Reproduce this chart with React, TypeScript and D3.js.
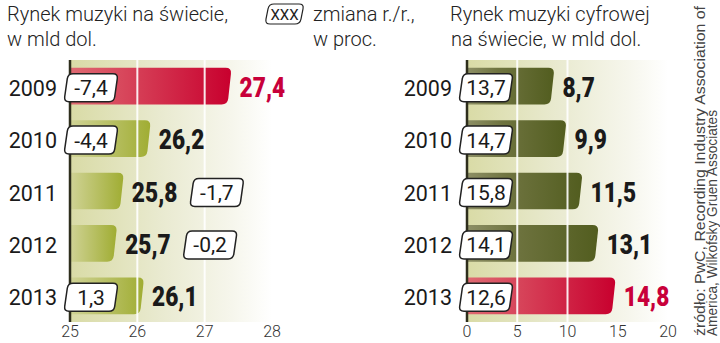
import React from "react";
import * as d3 from "d3";

const years = ["2009", "2010", "2011", "2012", "2013"];
const totalValues = [27.4, 26.2, 25.8, 25.7, 26.1];
const totalChange = [-7.4, -4.4, -1.7, -0.2, 1.3];
const totalTicks = [25, 26, 27, 28];
const totalGrid = [26, 27];
const digitalValues = [8.7, 9.9, 11.5, 13.1, 14.8];
const digitalChange = [13.7, 14.7, 15.8, 14.1, 12.6];
const digitalTicks = [0, 5, 10, 15, 20];
const digitalGrid = [5, 10];
const titleTotal = ["Rynek muzyki na świecie,", "w mld dol."];
const titleDigital = ["Rynek muzyki cyfrowej", "na świecie, w mld dol."];
const legendSample = "XXX";
const legendLines = ["zmiana r./r.,", "w proc."];
const sourceLines = [
  "źródło: PwC, Recording Industry Association of",
  "America, Wilkofsky Gruen Associates",
];

const fmt = (v: number) => d3.format(".1f")(v).replace(".", ",").replace("\u2212", "-");

const LIGHT = "Roboto, 'Noto Sans', sans-serif";
const ARIAL = "'Liberation Sans', Arial, sans-serif";

function roundedPoly(pts: [number, number][], radii: number[]) {
  const n = pts.length;
  let d = "";
  for (let i = 0; i < n; i++) {
    const p0 = pts[(i - 1 + n) % n], p1 = pts[i], p2 = pts[(i + 1) % n];
    const v1 = [p0[0] - p1[0], p0[1] - p1[1]];
    const v2 = [p2[0] - p1[0], p2[1] - p1[1]];
    const l1 = Math.hypot(v1[0], v1[1]), l2 = Math.hypot(v2[0], v2[1]);
    const r1 = Math.min(radii[i], l1 / 2), r2 = Math.min(radii[i], l2 / 2);
    const a = [p1[0] + (v1[0] / l1) * r1, p1[1] + (v1[1] / l1) * r1];
    const b = [p1[0] + (v2[0] / l2) * r2, p1[1] + (v2[1] / l2) * r2];
    d += (i === 0 ? "M" : "L") + a[0] + "," + a[1] + "Q" + p1[0] + "," + p1[1] + " " + b[0] + "," + b[1];
  }
  return d + "Z";
}

function labelBox(x0: number, cy: number, w: number, h: number) {
  const s = 4;
  const y0 = cy - h / 2, y1 = cy + h / 2;
  return roundedPoly(
    [[x0 + s, y0], [x0 + w, y0], [x0 + w - s, y1], [x0, y1]],
    [5, 5, 5, 5]
  );
}

type ChartProps = {
  id: string;
  domain: [number, number];
  range: [number, number];
  values: number[];
  changes: number[];
  ticks: number[];
  grid: number[];
  yearEnd: number;
  boxLeft: number;
  barGrad: string;
};

const TOP = 60, BOTTOM = 322;
const BOX_W = 54, BOX_H = 28;

function BarChart(p: ChartProps) {
  const x = d3.scaleLinear().domain(p.domain).range(p.range);
  const y = d3.scaleBand<string>().domain(years).range([TOP, BOTTOM]).paddingInner(0.3).paddingOuter(0.15);
  const maxV = d3.max(p.values) as number;
  const x0 = x(p.domain[0]);
  const bw = y.bandwidth();
  return (
    <g>
      <rect x={x0} y={TOP} width={x(p.domain[1]) - x0} height={BOTTOM - TOP} fill={`url(#bg-${p.id})`} />
      {years.map((yr, i) => {
        const v = p.values[i];
        const x1 = x(v);
        const by = y(yr) as number;
        const hi = v === maxV;
        const d = roundedPoly(
          [[x0, by], [x1, by], [x1 - 4, by + bw], [x0, by + bw]],
          [0, 6, 6, 0]
        );
        return <path key={yr} d={d} fill={hi ? "url(#bar-red)" : `url(#${p.barGrad})`} />;
      })}
      {p.grid.map((g) => (
        <line key={g} x1={x(g)} x2={x(g)} y1={TOP} y2={BOTTOM} stroke="#ffffff" strokeOpacity={0.9} strokeWidth={2} />
      ))}
      <line x1={x0} x2={x0} y1={TOP} y2={BOTTOM} stroke="#2e2e1c" strokeWidth={2.5} />
      {years.map((yr, i) => {
        const v = p.values[i];
        const cy = (y(yr) as number) + bw / 2;
        const hi = v === maxV;
        const vx = x(v) + 8;
        const after = x(v) - (p.boxLeft + BOX_W) < 20;
        const bx = after ? vx + 58 : p.boxLeft;
        return (
          <g key={yr}>
            <text x={p.yearEnd} y={cy + 9.5} textAnchor="end" fontFamily={LIGHT} fontSize={21.5} fill="#1a1a1a">
              {yr}
            </text>
            <text
              transform={`translate(${vx},${cy + 10.5}) scale(0.84,1)`}
              fontFamily={LIGHT}
              fontWeight={900}
              fontSize={27}
              fill={hi ? "#c8003a" : "#1a1a1a"}
            >
              {fmt(v)}
            </text>
            <path d={labelBox(bx, cy + 1.5, BOX_W, BOX_H)} fill="#ffffff" stroke="#222" strokeWidth={1.5} />
            <text x={bx + BOX_W / 2} y={cy + 9} textAnchor="middle" fontFamily={LIGHT} fontSize={21} fill="#1a1a1a">
              {fmt(p.changes[i])}
            </text>
          </g>
        );
      })}
      {p.ticks.map((t) => (
        <text key={t} x={x(t)} y={337} textAnchor="middle" fontFamily={LIGHT} fontWeight={300} fontSize={16} fill="#333">
          {t}
        </text>
      ))}
    </g>
  );
}

export default function App() {
  return (
    <svg width={720} height={343} style={{ position: "absolute", left: 0, top: 0, background: "#fff" }}>
      <defs>
        {["l", "r"].map((k) => (
          <linearGradient key={k} id={`bg-${k}`} x1="0" x2="1" y1="0" y2="0">
            <stop offset="0" stopColor="#d9dba6" />
            <stop offset="0.45" stopColor="#e9ead0" />
            <stop offset="0.8" stopColor="#f6f6ec" />
            <stop offset="1" stopColor="#ffffff" />
          </linearGradient>
        ))}
        <linearGradient id="bar-green" x1="0" x2="1" y1="0" y2="0">
          <stop offset="0" stopColor="#d0d396" />
          <stop offset="1" stopColor="#a0ad33" />
        </linearGradient>
        <linearGradient id="bar-dark" x1="0" x2="1" y1="0" y2="0">
          <stop offset="0" stopColor="#8d8f66" />
          <stop offset="0.35" stopColor="#6f7440" />
          <stop offset="1" stopColor="#525d1f" />
        </linearGradient>
        <linearGradient id="bar-red" x1="0" x2="1" y1="0" y2="0">
          <stop offset="0" stopColor="#df6a72" />
          <stop offset="1" stopColor="#c8002e" />
        </linearGradient>
      </defs>

      <g fontFamily={LIGHT} fontWeight={300} fontSize={20} fill="#222">
        <text x={7} y={21}>{titleTotal[0]}</text>
        <text x={7} y={46}>{titleTotal[1]}</text>
        <text x={450} y={21}>{titleDigital[0]}</text>
        <text x={451} y={46}>{titleDigital[1]}</text>
        <text x={313} y={21}>{legendLines[0]}</text>
        <text x={313} y={46}>{legendLines[1]}</text>
      </g>
      <path d={labelBox(265, 14, 39, 20)} fill="#fff" stroke="#222" strokeWidth={1.2} />
      <text x={284.5} y={20} textAnchor="middle" fontFamily={LIGHT} fontSize={15} fill="#222">
        {legendSample}
      </text>

      <BarChart
        id="l"
        domain={[25, 28]}
        range={[70, 272]}
        values={totalValues}
        changes={totalChange}
        ticks={totalTicks}
        grid={totalGrid}
        yearEnd={57}
        boxLeft={64}
        barGrad="bar-green"
      />
      <BarChart
        id="r"
        domain={[0, 20]}
        range={[467, 668]}
        values={digitalValues}
        changes={digitalChange}
        ticks={digitalTicks}
        grid={digitalGrid}
        yearEnd={452}
        boxLeft={459}
        barGrad="bar-dark"
      />

      <g fontFamily={ARIAL} fontSize={15} fill="#444">
        <text transform="translate(705,336) rotate(-90)" textLength={330} lengthAdjust="spacingAndGlyphs">
          {sourceLines[0]}
        </text>
        <text transform="translate(717,336) rotate(-90)" textLength={226} lengthAdjust="spacingAndGlyphs">
          {sourceLines[1]}
        </text>
      </g>
    </svg>
  );
}
